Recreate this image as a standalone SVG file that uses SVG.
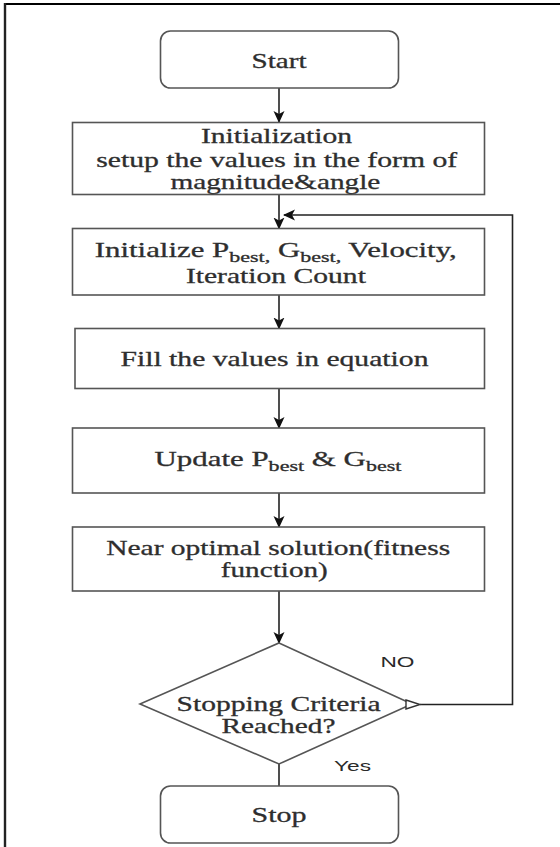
<svg xmlns="http://www.w3.org/2000/svg" width="560" height="847" viewBox="0 0 560 847">
<style>
.box{fill:#fff;stroke:#555;stroke-width:1.6}
.t{font-family:"Liberation Serif","Times New Roman",serif;font-size:21px;fill:#2e2e2e;stroke:#2e2e2e;stroke-width:0.3;text-anchor:middle}
.s{font-size:15px}
.lbl{font-family:"Liberation Sans",Arial,sans-serif;font-size:14px;fill:#2a2a2a}
.c{fill:none;stroke:#222;stroke-width:1.6}
</style>
<defs>
<marker id="ah" viewBox="0 0 12 12" refX="11" refY="6" markerWidth="12" markerHeight="12" markerUnits="userSpaceOnUse" orient="auto">
<path d="M0,0.5 L12,6 L0,11.5 L3,6 z" fill="#111"/>
</marker>
</defs>
<rect width="560" height="847" fill="#fff"/>
<g id="frame">
<line x1="4" y1="4" x2="560" y2="4" stroke="#000" stroke-width="2.2"/>
<line x1="5" y1="3" x2="5" y2="847" stroke="#222" stroke-width="2.4"/>
</g>
<g id="connectors">
<path class="c" d="M279,88 V122" marker-end="url(#ah)"/>
<path class="c" d="M279,194.5 V228.5" marker-end="url(#ah)"/>
<path class="c" d="M279,295 V328.5" marker-end="url(#ah)"/>
<path class="c" d="M279,388.5 V428" marker-end="url(#ah)"/>
<path class="c" d="M279,493 V527" marker-end="url(#ah)"/>
<path class="c" d="M279,591 V643" marker-end="url(#ah)"/>
<path class="c" d="M279,764 V786"/>
<path class="c" d="M420,704.5 H512.5 V215 H284" stroke="#444" marker-end="url(#ah)"/>
</g>
<g id="start">
<rect class="box" x="160.5" y="31" width="238" height="57" rx="10"/>
<text class="t" x="279" y="68" textLength="55" lengthAdjust="spacingAndGlyphs">Start</text>
</g>
<g id="init">
<rect class="box" x="72.5" y="122.5" width="412" height="72"/>
<text class="t" x="276.5" y="142.5" textLength="151" lengthAdjust="spacingAndGlyphs">Initialization</text>
<text class="t" x="276.7" y="167" textLength="361" lengthAdjust="spacingAndGlyphs">setup the values in the form of</text>
<text class="t" x="275.4" y="189" textLength="210" lengthAdjust="spacingAndGlyphs">magnitude&amp;angle</text>
</g>
<g id="init2">
<rect class="box" x="72.5" y="228.5" width="412" height="66.5"/>
<text class="t" x="275.8" y="256.5" textLength="362" lengthAdjust="spacingAndGlyphs">Initialize P<tspan class="s" dy="5">best,</tspan><tspan dy="-5"> G</tspan><tspan class="s" dy="5">best,</tspan><tspan dy="-5"> Velocity,</tspan></text>
<text class="t" x="275.9" y="283" textLength="180" lengthAdjust="spacingAndGlyphs">Iteration Count</text>
</g>
<g id="fill">
<rect class="box" x="75" y="328.5" width="409.5" height="60"/>
<text class="t" x="274.5" y="365.5" textLength="308" lengthAdjust="spacingAndGlyphs">Fill the values in equation</text>
</g>
<g id="update">
<rect class="box" x="72.5" y="428" width="412" height="65"/>
<text class="t" x="278" y="465.5" textLength="247" lengthAdjust="spacingAndGlyphs">Update P<tspan class="s" dy="5">best</tspan><tspan dy="-5"> &amp; G</tspan><tspan class="s" dy="5">best</tspan></text>
</g>
<g id="near">
<rect class="box" x="72.5" y="527" width="412" height="64"/>
<text class="t" x="278.2" y="555" textLength="344" lengthAdjust="spacingAndGlyphs">Near optimal solution(fitness</text>
<text class="t" x="274.3" y="577" textLength="107" lengthAdjust="spacingAndGlyphs">function)</text>
</g>
<g id="decision">
<polygon class="box" points="279,643 412,704 279,764 140,704"/>
<text class="t" x="278.6" y="710.5" textLength="204" lengthAdjust="spacingAndGlyphs">Stopping Criteria</text>
<text class="t" x="278.5" y="733" textLength="114" lengthAdjust="spacingAndGlyphs">Reached?</text>
<polygon points="406,700 420,704.5 406,709" fill="#fff" stroke="#333" stroke-width="1.4"/>
</g>
<g id="stop">
<rect class="box" x="160.5" y="786" width="238" height="57" rx="10"/>
<text class="t" x="279" y="821.5" textLength="55" lengthAdjust="spacingAndGlyphs">Stop</text>
</g>
<g id="labels">
<text class="lbl" x="380.5" y="667" textLength="34" lengthAdjust="spacingAndGlyphs">NO</text>
<text class="lbl" x="334" y="771" textLength="37" lengthAdjust="spacingAndGlyphs">Yes</text>
</g>
</svg>
